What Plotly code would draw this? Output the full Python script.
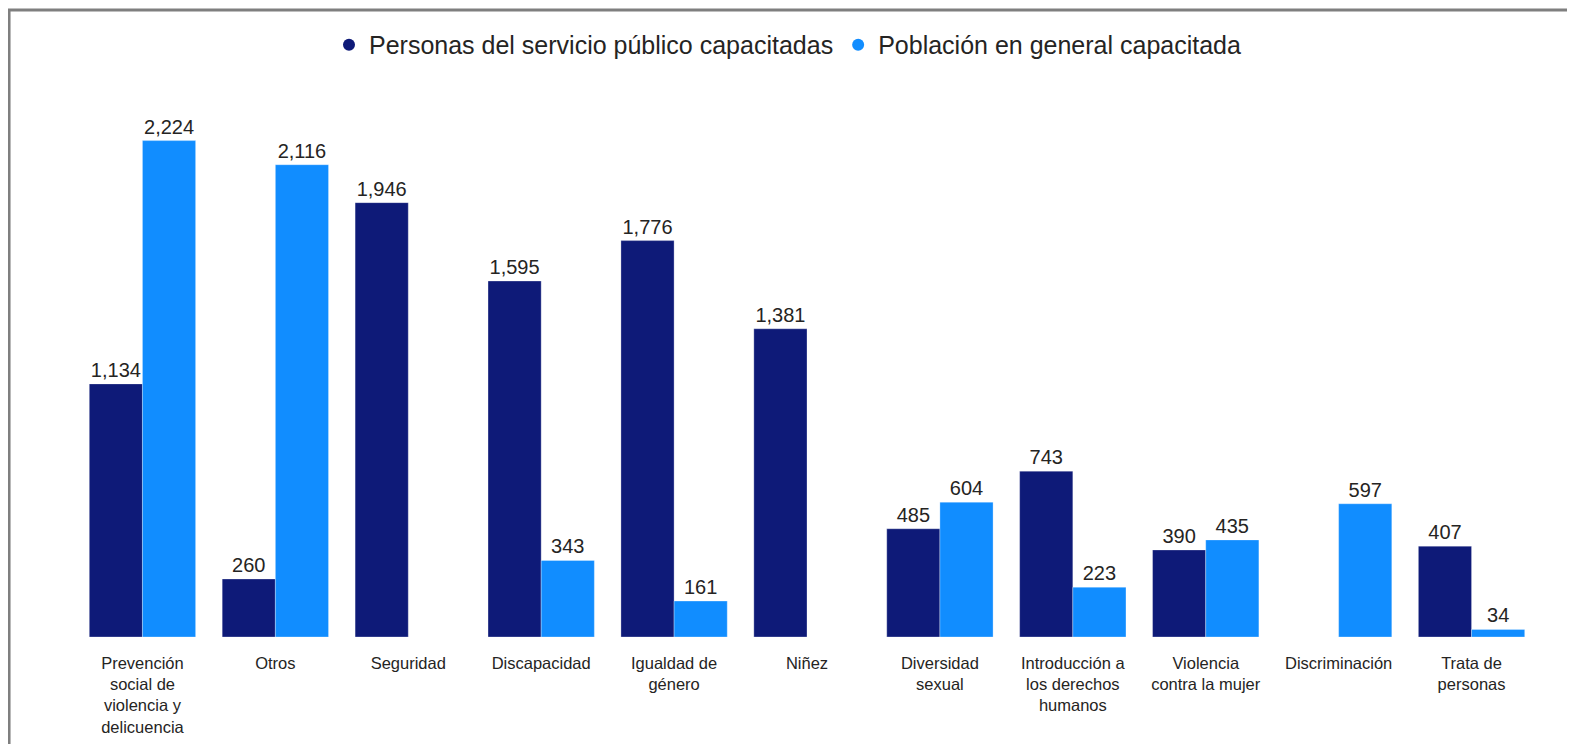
import plotly.graph_objects as go

categories = [
    "Prevención<br>social de<br>violencia y<br>delicuencia",
    "Otros",
    "Seguridad",
    "Discapacidad",
    "Igualdad de<br>género",
    "Niñez",
    "Diversidad<br>sexual",
    "Introducción a<br>los derechos<br>humanos",
    "Violencia<br>contra la mujer",
    "Discriminación",
    "Trata de<br>personas",
]
servicio_publico = [1134, 260, 1946, 1595, 1776, 1381, 485, 743, 390, None, 407]
poblacion_general = [2224, 2116, None, 343, 161, None, 604, 223, 435, 597, 34]

series_names = ["Personas del servicio público capacitadas", "Población en general capacitada"]
colors = ["#0E1A78", "#118DFF"]

def fmt(v):
    return "" if v is None else f"{v:,}"

fig = go.Figure()
for name, vals, col in zip(series_names, [servicio_publico, poblacion_general], colors):
    fig.add_trace(go.Bar(
        x=categories, y=vals, name=name,
        marker=dict(color=col, line=dict(color="rgba(255,255,255,0.6)", width=0.5)),
        text=[fmt(v) for v in vals], textposition="outside",
        textfont=dict(size=20, color="#252423", family="Liberation Sans, Arial"),
        cliponaxis=False, showlegend=False,
    ))
    fig.add_trace(go.Scatter(
        x=[None], y=[None], mode="markers", name=name,
        marker=dict(color=col, size=13, symbol="circle"),
    ))

fig.add_shape(type="rect", xref="paper", yref="paper",
              x0=-0.0458, x1=1.1, y0=-0.5, y1=1.1237,
              line=dict(color="#7f7f7f", width=3), fillcolor="rgba(0,0,0,0)", layer="above")

fig.update_layout(
    width=1575, height=744,
    margin=dict(l=68, r=45, t=71, b=115),
    paper_bgcolor="white", plot_bgcolor="white",
    barmode="group", bargap=0.2, bargroupgap=0,
    font=dict(family="Liberation Sans, Arial", color="#252423"),
    legend=dict(orientation="h", x=0.487, xanchor="center", y=1.061, yanchor="middle",
                font=dict(size=25, color="#252423"), itemsizing="constant",
                itemwidth=30, tracegroupgap=0),
    xaxis=dict(showgrid=False, showline=False, ticks="", tickfont=dict(size=16.5, color="#252423"),
               range=[-0.5, 10.5], ticklabelstandoff=14),
    yaxis=dict(visible=False, range=[0, 2500], showgrid=False),
)

fig.write_html("out.html")
